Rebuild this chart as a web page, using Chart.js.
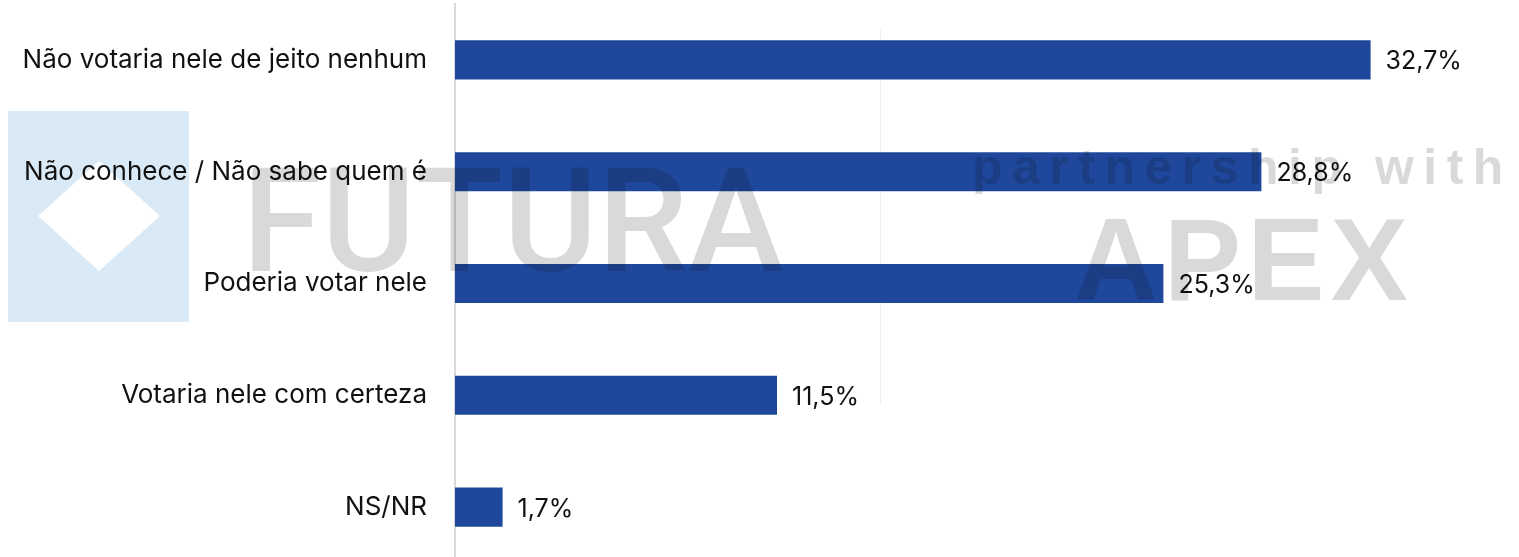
<!DOCTYPE html>
<html>
<head>
<meta charset="utf-8">
<script src="https://cdn.jsdelivr.net/npm/chart.js@4.4.1/dist/chart.umd.min.js"></script>
<style>
  html, body { margin: 0; padding: 0; background: #fff; overflow: hidden; }
  #wrap { width: 1519px; height: 563px; }
</style>
</head>
<body>
<div id="wrap"><canvas id="myChart" width="1519" height="563"></canvas></div>
<script>
// DATA
const categories = [
    "Não votaria nele de jeito nenhum",
    "Não conhece / Não sabe quem é",
    "Poderia votar nele",
    "Votaria nele com certeza",
    "NS/NR"
];
const values = [32.7, 28.8, 25.3, 11.5, 1.7];

const BAR_COLOR = "#1F489C";
const FONT = "Inter, 'Open Sans', sans-serif";

// BACKGROUND LOGO (light blue box with white diamond)
const logoBack = {
    id: "logoBack",
    beforeDraw(chart) {
        const c = chart.ctx;
        c.save();
        c.fillStyle = "#DAE9F6";
        c.fillRect(8, 111, 181, 211);
        c.fillStyle = "#fff";
        c.beginPath();
        c.moveTo(99, 161);
        c.lineTo(160, 216);
        c.lineTo(99, 271);
        c.lineTo(38, 216);
        c.closePath();
        c.fill();
        // faint divider
        c.strokeStyle = "#EEEEEE";
        c.lineWidth = 1;
        c.beginPath();
        c.moveTo(880.5, 30);
        c.lineTo(880.5, 405);
        c.stroke();
        c.restore();
    }
};

// VALUE LABELS + WATERMARK TEXT ON TOP
const valueLabels = {
    id: "valueLabels",
    afterDatasetsDraw(chart) {
        const c = chart.ctx;
        const meta = chart.getDatasetMeta(0);
        c.save();
        c.font = "25px " + FONT;
        c.fillStyle = "#111";
        c.textAlign = "left";
        c.textBaseline = "middle";
        meta.data.forEach((bar, i) => {
            const txt = values[i].toFixed(1).replace(".", ",") + "%";
            c.fillText(txt, bar.x + 15, bar.y + 2);
        });
        c.restore();
    },
    afterDraw(chart) {
        const c = chart.ctx;
        c.save();
        c.fillStyle = "rgba(0,0,0,0.15)";
        c.textBaseline = "alphabetic";
        c.textAlign = "left";
        c.font = "500 144px Roboto, 'Liberation Sans', sans-serif";
        c.fillText("FUTURA", 242, 271, 558);
        c.font = "bold 116px 'Liberation Sans', Arial, sans-serif";
        c.letterSpacing = "6px";
        c.fillText("APEX", 1074, 300);
        c.font = "bold 50px 'Liberation Sans', Arial, sans-serif";
        c.letterSpacing = "9.5px";
        c.fillText("partnership with", 972, 184);
        c.restore();
    }
};

const ctx = document.getElementById("myChart").getContext("2d");
const myChart = new Chart(ctx, {
    type: "bar",
    data: {
        labels: categories,
        datasets: [
            {
                data: values,
                backgroundColor: BAR_COLOR,
                borderWidth: 0,
                categoryPercentage: 1,
                barPercentage: 0.35,
            },
        ],
    },
    options: {
        indexAxis: "y",
        responsive: false,
        animation: false,
        layout: { padding: { top: 4, right: 0, bottom: 0, left: 0 } },
        plugins: {
            legend: { display: false },
            tooltip: { enabled: false },
        },
        scales: {
            x: {
                display: false,
                min: 0,
                max: 38,
            },
            y: {
                grid: { display: false, drawTicks: false },
                border: { display: true, color: "#D9D9D9", width: 2 },
                ticks: {
                    color: "#111",
                    padding: 28,
                    font: { family: FONT, size: 26 },
                },
                afterFit(scale) {
                    scale.width = 455;
                    scale.paddingTop = 0;
                    scale.paddingBottom = 0;
                },
            },
        },
    },
    plugins: [logoBack, valueLabels],
});
</script>
</body>
</html>
